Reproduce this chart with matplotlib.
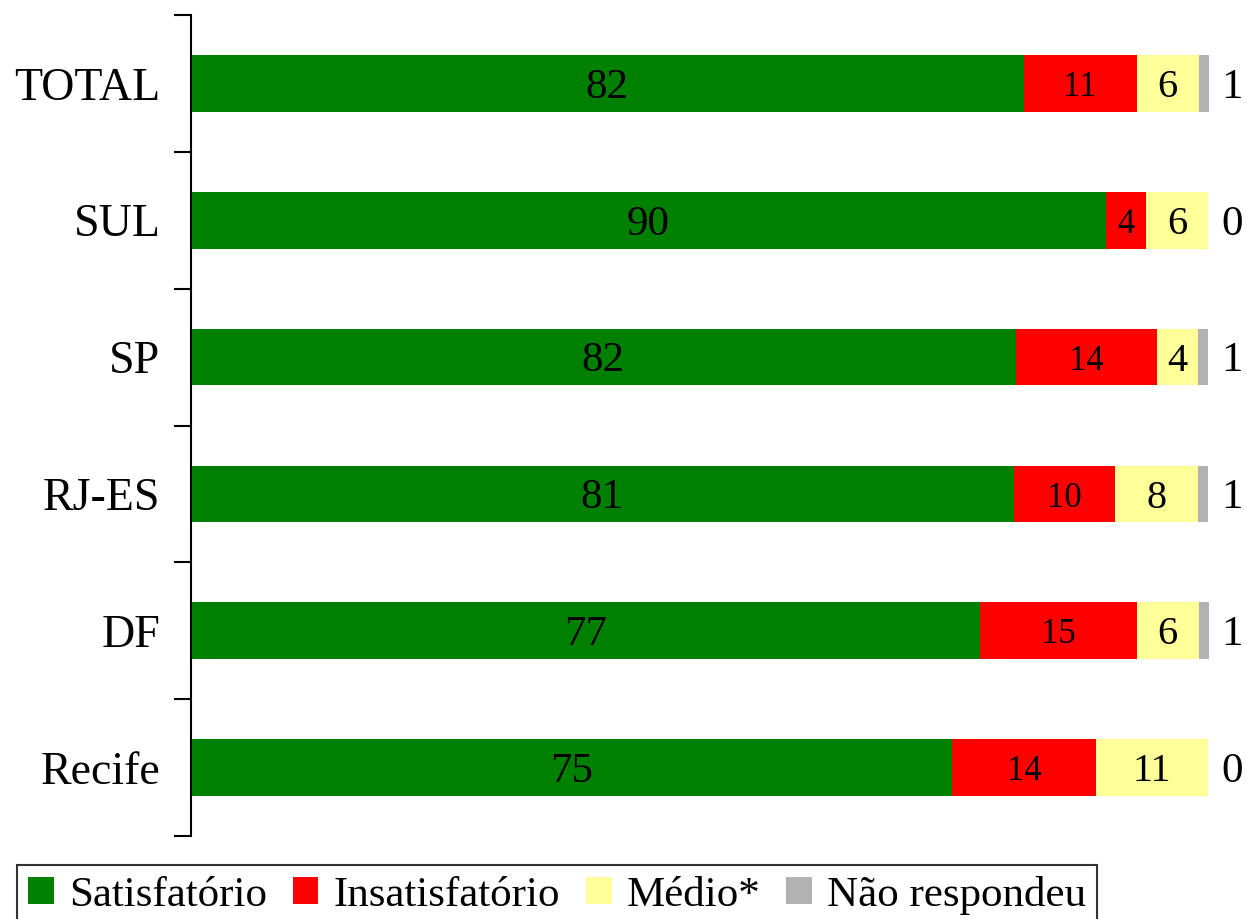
import matplotlib.pyplot as plt
import matplotlib.ticker as ticker
from matplotlib.patches import Patch

regioes = ['TOTAL', 'SUL', 'SP', 'RJ-ES', 'DF', 'Recife']

# widths (percent)
satisf = [81.8, 89.9, 81.0, 80.8, 77.5, 74.8]
insat = [11.1, 3.9, 13.9, 10.0, 15.4, 14.1]
medio = [6.1, 6.1, 4.0, 8.1, 6.1, 11.0]
nao_resp = [1.0, 0.0, 1.0, 1.0, 1.0, 0.0]

# printed labels
lab_satisf = [82, 90, 82, 81, 77, 75]
lab_insat = [11, 4, 14, 10, 15, 14]
lab_medio = [6, 6, 4, 8, 6, 11]
lab_nao = [1, 0, 1, 1, 1, 0]

series = ['Satisfatório', 'Insatisfatório', 'Médio*', 'Não respondeu']
cores = ['#008000', '#ff0000', '#ffff99', '#b2b2b2']

plt.rcParams['font.family'] = ['Liberation Serif', 'DejaVu Serif']

fig = plt.figure(figsize=(12.47, 9.19), dpi=100)
ax = fig.add_axes([191/1247, 83/919, 1018/1247, 821/919])

y = list(range(len(regioes)))
h = 0.415

left = [0]*len(y)
dados = [satisf, insat, medio, nao_resp]
rotulos = [lab_satisf, lab_insat, lab_medio]
tamanhos = [31, 25, 29]
for k, vals in enumerate(dados):
    ax.barh(y, vals, left=left, height=h, color=cores[k], linewidth=0)
    if k < 3:
        for i in y:
            ax.text(left[i] + vals[i]/2, i + 0.03, str(rotulos[k][i]),
                    ha='center', va='center', fontsize=tamanhos[k])
    left = [a + b for a, b in zip(left, vals)]

for i in y:
    ax.text(101.2, i + 0.03, str(lab_nao[i]), ha='left', va='center',
            fontsize=31)

ax.set_xlim(0, 100)
ax.set_ylim(len(regioes) - 0.5, -0.5)
ax.set_yticks(y)
ax.set_yticklabels(regioes, fontsize=33)
ax.yaxis.set_minor_locator(ticker.FixedLocator([i - 0.5 for i in range(len(regioes) + 1)]))
ax.tick_params(axis='y', which='major', length=0, pad=22)
ax.tick_params(axis='y', which='minor', length=12, width=1.5, direction='out')
ax.set_xticks([])
for s in ['top', 'right', 'bottom']:
    ax.spines[s].set_visible(False)
ax.spines['left'].set_linewidth(1.5)

handles = [Patch(facecolor=c, edgecolor='none') for c in cores]
leg = fig.legend(handles, series, loc='upper left',
                 bbox_to_anchor=(17/1247, 1 - 865/919), ncol=4,
                 prop={'family': 'Liberation Serif', 'size': 31},
                 frameon=True, fancybox=False,
                 handlelength=0.6, handleheight=0.6, handletextpad=0.35,
                 columnspacing=0.6, borderpad=0.25, borderaxespad=0)
leg.get_frame().set_edgecolor('black')
leg.get_frame().set_linewidth(1.5)

fig.savefig('out.png', dpi=100)
